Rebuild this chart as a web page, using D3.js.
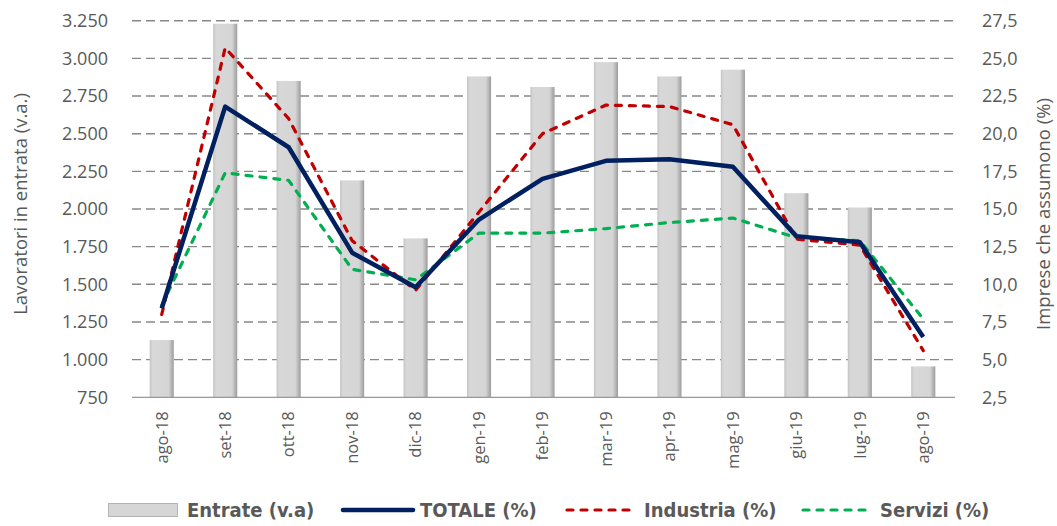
<!DOCTYPE html>
<html>
<head>
<meta charset="utf-8">
<script src="https://cdn.jsdelivr.net/npm/d3@7"></script>
<style>
  body { margin: 0; background: #fff; }
  text { font-family: "Open Sans", sans-serif; fill: #595959; }
  .leg { font-family: "Liberation Sans Narrow", "DejaVu Sans Condensed", sans-serif; font-weight: bold; font-size: 20px; }
</style>
</head>
<body>
<script>
// Data
var months = ["ago-18", "set-18", "ott-18", "nov-18", "dic-18", "gen-19", "feb-19",
              "mar-19", "apr-19", "mag-19", "giu-19", "lug-19", "ago-19"];
var entrate = [1130, 3230, 2850, 2190, 1805, 2880, 2810, 2975, 2880, 2925, 2105, 2010, 955];
var totale = [8.4, 21.8, 19.1, 12.1, 9.8, 14.3, 17.0, 18.2, 18.3, 17.8, 13.2, 12.8, 6.5];
var industria = [8.0, 25.7, 21.0, 12.9, 9.6, 14.8, 20.0, 21.9, 21.8, 20.6, 13.0, 12.6, 5.6];
var servizi = [8.6, 17.4, 16.9, 11.0, 10.3, 13.4, 13.4, 13.7, 14.1, 14.4, 13.1, 12.9, 7.7];
var leftTicks = [750, 1000, 1250, 1500, 1750, 2000, 2250, 2500, 2750, 3000, 3250];
var rightTicks = [2.5, 5, 7.5, 10, 12.5, 15, 17.5, 20, 22.5, 25, 27.5];

var WIDTH = 1057, HEIGHT = 526;
var plotLeft = 130, plotRight = 955, plotTop = 20.7, plotBottom = 397.3;

var svg = d3.select("body").append("svg").attr("width", WIDTH).attr("height", HEIGHT);

// bar gradient
var grad = svg.append("defs").append("linearGradient").attr("id", "bargrad");
grad.append("stop").attr("offset", "0%").attr("stop-color", "#c4c4c4");
grad.append("stop").attr("offset", "12%").attr("stop-color", "#d8d8d8");
grad.append("stop").attr("offset", "78%").attr("stop-color", "#d5d5d5");
grad.append("stop").attr("offset", "100%").attr("stop-color", "#9c9c9c");

var x = d3.scaleBand().domain(months).range([plotLeft, plotRight]).paddingInner(0.62).paddingOuter(0.31);
var xc = function(d) { return x(d) + x.bandwidth() / 2; };
var yL = d3.scaleLinear().domain([750, 3250]).range([plotBottom, plotTop]);
var yR = d3.scaleLinear().domain([2.5, 27.5]).range([plotBottom, plotTop]);

var fmtL = function(v) { return d3.format(",")(v).replace(/,/g, "."); };
var fmtR = function(v) { return d3.format(".1f")(v).replace(".", ","); };

// gridlines
svg.append("g").selectAll("line").data(leftTicks.slice(1)).enter().append("line")
    .attr("x1", plotLeft + 2).attr("x2", plotRight)
    .attr("y1", function(d) { return yL(d); }).attr("y2", function(d) { return yL(d); })
    .attr("stroke", "#888").attr("stroke-width", 1.4).attr("stroke-dasharray", "9,5");

// left axis
var gL = svg.append("g").attr("transform", "translate(" + plotLeft + ",0)")
    .call(d3.axisLeft(yL).tickValues(leftTicks).tickFormat(fmtL).tickSize(0).tickPadding(22));
gL.select(".domain").remove();
gL.selectAll("text").attr("font-size", "18px").attr("font-family", "Open Sans").attr("fill", "#595959");

// right axis
var gR = svg.append("g").attr("transform", "translate(" + plotRight + ",0)")
    .call(d3.axisRight(yR).tickValues(rightTicks).tickFormat(fmtR).tickSize(0).tickPadding(27));
gR.select(".domain").remove();
gR.selectAll("text").attr("font-size", "18px").attr("font-family", "Open Sans").attr("fill", "#595959");

// bars
svg.append("g").selectAll("rect").data(months).enter().append("rect")
    .attr("x", function(d) { return x(d); })
    .attr("width", x.bandwidth())
    .attr("y", function(d, i) { return yL(entrate[i]); })
    .attr("height", function(d, i) { return plotBottom - yL(entrate[i]); })
    .attr("fill", "url(#bargrad)");

// x axis
var gX = svg.append("g").attr("transform", "translate(0," + plotBottom + ")")
    .call(d3.axisBottom(x).tickSize(0).tickPadding(0));
gX.select(".domain").attr("stroke", "#999").attr("stroke-width", 1.3).attr("d", "M" + (plotLeft + 2) + ",0H" + plotRight);
gX.selectAll("text")
    .attr("font-size", "16.5px").attr("font-family", "Open Sans").attr("fill", "#595959")
    .attr("text-anchor", "end")
    .attr("transform", "rotate(-90)")
    .attr("dx", "-14px").attr("dy", "0.35em")
    .attr("x", 0).attr("y", 0);

// lines
var series = [
    { name: "TOTALE (%)", values: totale, color: "#002060", width: 4.5, dash: null },
    { name: "Industria (%)", values: industria, color: "#C00000", width: 3.2, dash: "6,8" },
    { name: "Servizi (%)", values: servizi, color: "#00B050", width: 3.2, dash: "6,8" }
];
var line = d3.line().x(function(d, i) { return xc(months[i]); }).y(function(d) { return yR(d); });
[series[2], series[1], series[0]].forEach(function(s) {
    svg.append("path").datum(s.values)
        .attr("d", line)
        .attr("fill", "none")
        .attr("stroke", s.color)
        .attr("stroke-width", s.width)
        .attr("stroke-linejoin", "round")
        .attr("stroke-linecap", s.dash ? "round" : "butt")
        .attr("stroke-dasharray", s.dash);
});

// axis titles
svg.append("text").attr("transform", "translate(27,204) rotate(-90)")
    .attr("text-anchor", "middle").attr("font-size", "18.5px").text("Lavoratori in entrata (v.a.)");
svg.append("text").attr("transform", "translate(1050,214) rotate(-90)")
    .attr("text-anchor", "middle").attr("font-size", "18.5px").text("Imprese che assumono (%)");

// legend
var ly = 510;
svg.append("rect").attr("x", 108.5).attr("y", ly - 6.5).attr("width", 69).attr("height", 13)
    .attr("fill", "#d6d6d6").attr("stroke", "#b4b4b4").attr("stroke-width", 1);
svg.append("text").attr("class", "leg").attr("x", 187).attr("y", ly + 7).text("Entrate (v.a)");
var legX = [343, 567, 803];
series.forEach(function(s, i) {
    svg.append("line").attr("x1", legX[i]).attr("x2", legX[i] + 70).attr("y1", ly).attr("y2", ly)
        .attr("stroke", s.color).attr("stroke-width", s.dash ? 3.2 : 4.5)
        .attr("stroke-linecap", "round").attr("stroke-dasharray", s.dash);
    svg.append("text").attr("class", "leg").attr("x", legX[i] + 77).attr("y", ly + 7).text(s.name);
});
</script>
</body>
</html>
